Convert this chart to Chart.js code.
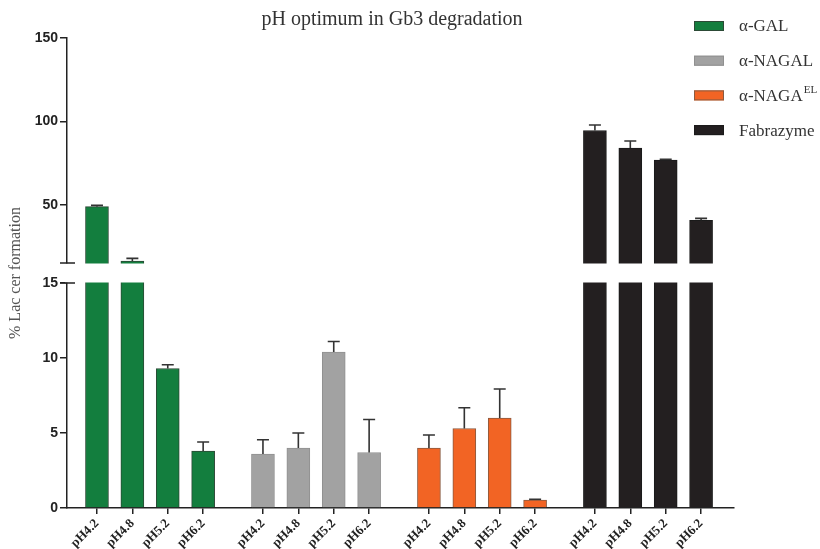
<!DOCTYPE html>
<html>
<head>
<meta charset="utf-8">
<script src="https://cdn.jsdelivr.net/npm/chart.js@4.4.1/dist/chart.umd.min.js"></script>
<style>
  html, body { margin: 0; padding: 0; background: #fff; }
  #wrap { width: 820px; height: 549px; }
</style>
</head>
<body>
<div id="wrap"><canvas id="phChart" width="820" height="549"></canvas></div>
<script>
// pH levels tested for each enzyme
const phLabels = ['pH4.2', 'pH4.8', 'pH5.2', 'pH6.2'];
const enzymeNames = ['α-GAL', 'α-NAGAL', 'α-NAGA', 'Fabrazyme'];
const enzymeSups = ['', '', 'EL', ''];

// % Lac cer formation, mean and SEM
const galMean = [48.8, 16.2, 9.3, 3.8];
const galSem = [0.8, 1.6, 0.25, 0.6];
const nagalMean = [3.6, 4.0, 10.4, 3.7];
const nagalSem = [0.95, 1.0, 0.7, 2.2];
const nagaElMean = [4.0, 5.3, 6.0, 0.53];
const nagaElSem = [0.87, 1.38, 1.93, 0.05];
const fabMean = [94.5, 84.0, 76.8, 40.6];
const fabSem = [3.3, 4.2, 0.4, 1.2];

const yTicks = [0, 5, 10, 15, 50, 100, 150];

const colors = ['#137e3e', '#a2a2a2', '#f26424', '#231f20'];
const borders = ['#2c4a36', '#909090', '#8a5a40', '#1a1a1a'];

// y axis is split: 0-15 below the break, 15-150 above it
const BREAK_AT = 15;
const Y_MAX = 150;
const GAP = 20;
const GROUP_STEP = 4.69;

class BrokenLinearScale extends Chart.LinearScale {
    buildTicks() {
        this.start = this.min;
        this.end = this.max;
        return yTicks.map(v => ({ value: v }));
    }
    segH() {
        return (this.bottom - this.top - GAP) / 2;
    }
    getPixelForValue(value) {
        if (value === null || isNaN(value)) return NaN;
        const h = this.segH();
        if (value <= BREAK_AT) return this.bottom - value / BREAK_AT * h;
        return this.top + h - (value - BREAK_AT) / (Y_MAX - BREAK_AT) * h;
    }
    getValueForPixel(pixel) {
        const h = this.segH();
        if (pixel >= this.bottom - h) return (this.bottom - pixel) / h * BREAK_AT;
        return BREAK_AT + (this.top + h - pixel) / h * (Y_MAX - BREAK_AT);
    }
}
BrokenLinearScale.id = 'brokenLinear';
BrokenLinearScale.defaults = Chart.LinearScale.defaults;
Chart.register(BrokenLinearScale);

const allMeans = [galMean, nagalMean, nagaElMean, fabMean];
const allSems = [galSem, nagalSem, nagaElSem, fabSem];

const tickPositions = [];
const datasets = allMeans.map((means, g) => {
    const points = means.map((v, i) => {
        const x = g * GROUP_STEP + i;
        tickPositions.push(x);
        return { x: x, y: v };
    });
    return {
        label: enzymeNames[g],
        data: points,
        sems: allSems[g],
        backgroundColor: colors[g],
        borderColor: borders[g],
        borderWidth: 1,
        barThickness: 23,
        grouped: false
    };
});

// error bars (upper side only), the break gap, legend and title
const extras = {
    id: 'extras',
    afterDatasetsDraw(chart) {
        const ctx = chart.ctx;
        const y = chart.scales.y;
        ctx.save();
        ctx.strokeStyle = '#333';
        ctx.lineWidth = 1.6;
        chart.data.datasets.forEach((ds, d) => {
            const meta = chart.getDatasetMeta(d);
            meta.data.forEach((bar, i) => {
                const top = y.getPixelForValue(ds.data[i].y + ds.sems[i]);
                ctx.beginPath();
                ctx.moveTo(bar.x, bar.y);
                ctx.lineTo(bar.x, top);
                ctx.moveTo(bar.x - 6, top);
                ctx.lineTo(bar.x + 6, top);
                ctx.stroke();
            });
        });

        const h = y.segH();
        const upperEnd = y.top + h;
        const lowerEnd = y.bottom - h;
        ctx.fillStyle = '#fff';
        ctx.fillRect(chart.chartArea.left - 2, upperEnd + 0.5, chart.chartArea.right - chart.chartArea.left + 4, lowerEnd - upperEnd - 1);

        ctx.strokeStyle = '#222';
        ctx.lineWidth = 1.5;
        const ax = chart.chartArea.left;
        [upperEnd, lowerEnd].forEach(py => {
            ctx.beginPath();
            ctx.moveTo(ax - 7, py);
            ctx.lineTo(ax + 8, py);
            ctx.stroke();
        });
        ctx.restore();
    },
    afterDraw(chart) {
        const ctx = chart.ctx;
        ctx.save();
        ctx.fillStyle = '#333';
        ctx.font = '20px "Liberation Serif", "Times New Roman", serif';
        ctx.textAlign = 'center';
        ctx.textBaseline = 'middle';
        ctx.fillText('pH optimum in Gb3 degradation', 392, 20);

        ctx.textAlign = 'left';
        chart.data.datasets.forEach((ds, d) => {
            const cy = 26 + d * 34.7;
            ctx.fillStyle = ds.backgroundColor;
            ctx.fillRect(694, cy - 5, 30, 10);
            ctx.strokeStyle = ds.borderColor;
            ctx.lineWidth = 1;
            ctx.strokeRect(694.5, cy - 4.5, 29, 9);
            ctx.fillStyle = '#333';
            ctx.font = '17px "Liberation Serif", "Times New Roman", serif';
            ctx.fillText(ds.label, 739, cy + 1);
            if (enzymeSups[d]) {
                const w = ctx.measureText(ds.label).width;
                ctx.font = '11px "Liberation Serif", "Times New Roman", serif';
                ctx.fillText(enzymeSups[d], 739 + w + 1, cy - 5);
            }
        });
        ctx.restore();
    }
};

const config = {
    type: 'bar',
    data: { datasets: datasets },
    options: {
        responsive: false,
        animation: false,
        layout: { padding: { top: 38, right: 86, bottom: 0, left: 0 } },
        plugins: {
            legend: { display: false },
            title: { display: false },
            tooltip: { enabled: false }
        },
        scales: {
            x: {
                type: 'linear',
                min: -0.847,
                max: 18.0,
                offset: false,
                afterBuildTicks: scale => {
                    scale.ticks = tickPositions.map(v => ({ value: v }));
                },
                afterFit: scale => { scale.height = 41; },
                grid: { display: true, offset: false, drawOnChartArea: false, drawTicks: true, tickLength: 6, color: '#222', lineWidth: 1.5 },
                border: { display: true, color: '#222', width: 1.5 },
                ticks: {
                    autoSkip: false,
                    minRotation: 45,
                    maxRotation: 45,
                    padding: 2,
                    color: '#222',
                    font: { family: '"Liberation Serif", "Times New Roman", serif', size: 13, weight: 'bold' },
                    callback: (value, index) => phLabels[index % 4]
                }
            },
            y: {
                type: 'brokenLinear',
                min: 0,
                max: Y_MAX,
                afterFit: scale => { scale.width = 67; },
                grid: { display: true, drawOnChartArea: false, drawTicks: true, tickLength: 7, color: '#222', lineWidth: 1.5 },
                border: { display: true, color: '#222', width: 1.5 },
                ticks: {
                    padding: 2,
                    color: '#222',
                    font: { family: '"Liberation Sans", Arial, sans-serif', size: 14, weight: 'bold' },
                    callback: v => String(v)
                },
                title: {
                    display: true,
                    text: '% Lac cer formation',
                    color: '#555',
                    padding: { top: 6, bottom: 0 },
                    font: { family: '"Liberation Serif", "Times New Roman", serif', size: 16 }
                }
            }
        }
    },
    plugins: [extras]
};

const phChart = new Chart(document.getElementById('phChart'), config);
</script>
</body>
</html>
